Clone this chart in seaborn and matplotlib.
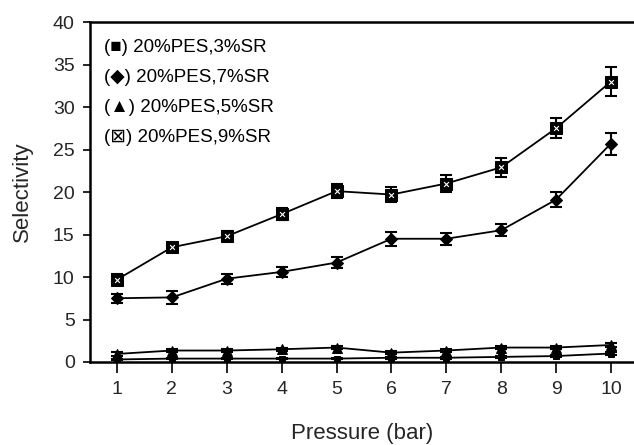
import numpy as np
import pandas as pd
import matplotlib
matplotlib.use("Agg")
import matplotlib.pyplot as plt
import seaborn as sns

pressure = [1, 2, 3, 4, 5, 6, 7, 8, 9, 10]
sr3 = [0.3, 0.4, 0.4, 0.4, 0.4, 0.5, 0.5, 0.6, 0.7, 1.0]
sr3_err = [0.1, 0.1, 0.1, 0.1, 0.1, 0.1, 0.1, 0.1, 0.1, 0.15]
sr7 = [7.5, 7.6, 9.8, 10.6, 11.7, 14.5, 14.5, 15.5, 19.1, 25.7]
sr7_err = [0.5, 0.8, 0.6, 0.6, 0.6, 0.8, 0.7, 0.7, 0.9, 1.3]
sr5 = [0.95, 1.35, 1.35, 1.5, 1.7, 1.1, 1.35, 1.7, 1.7, 2.0]
sr5_err = [0.2, 0.15, 0.15, 0.15, 0.15, 0.2, 0.15, 0.15, 0.15, 0.2]
sr9 = [9.7, 13.5, 14.8, 17.4, 20.1, 19.7, 21.0, 22.9, 27.5, 33.0]
sr9_err = [0.6, 0.5, 0.6, 0.7, 0.8, 0.9, 1.0, 1.1, 1.2, 1.7]
legend_labels = ["20%PES,3%SR", "20%PES,7%SR", "20%PES,5%SR", "20%PES,9%SR"]
legend_glyphs = ["\u25a0", "\u25c6", "\u25b2", "\u22a0"]
yticks = [0, 5, 10, 15, 20, 25, 30, 35, 40]

sns.set_theme(style="ticks")
plt.rcParams["font.family"] = ["Liberation Sans", "DejaVu Sans"]

fig = plt.figure(figsize=(6.34, 4.45), dpi=100)
ax = fig.add_axes([90 / 634, 83 / 445, 1 - 90 / 634, (362 - 22) / 445])

series = [
    (sr3, sr3_err, "s", 4.5),
    (sr7, sr7_err, "D", 6.5),
    (sr5, sr5_err, "^", 7),
    (sr9, sr9_err, "s", 8.5),
]
for vals, errs, mk, ms in series:
    df = pd.DataFrame({"p": pressure, "v": vals})
    ax.errorbar(pressure, vals, yerr=errs, fmt="none", ecolor="black",
                elinewidth=1.5, capsize=4.5, capthick=1.5, zorder=2)
    sns.lineplot(data=df, x="p", y="v", ax=ax, color="black", linewidth=1.3,
                 marker=mk, markersize=ms, markeredgecolor="black",
                 markerfacecolor="black", zorder=3)
# white cross inside boxed markers of 9%SR
sns.scatterplot(x=pressure, y=sr9, ax=ax, marker="x", s=12, color="white",
                linewidth=0.8, zorder=5)

ax.set_xlim(0.507, 10.42)
ax.set_ylim(0, 40)
ax.set_xticks(pressure)
ax.set_yticks(yticks)
ax.tick_params(axis="x", length=8, width=1.2, pad=6, labelsize=14, color="black")
ax.tick_params(axis="y", length=5, width=1.2, pad=6, labelsize=14, color="black")
for s in ["left", "bottom", "top"]:
    ax.spines[s].set_linewidth(1.8)
    ax.spines[s].set_color("black")
ax.spines["right"].set_visible(False)
ax.set_xlabel("Pressure (bar)", fontsize=16, va="baseline")
ax.xaxis.set_label_coords(0.5, (362 - 439) / 340)
ax.set_ylabel("Selectivity", fontsize=16, va="center")
ax.yaxis.set_label_coords((22 - 90) / 544, 0.5)

for i, (g, lab) in enumerate(zip(legend_glyphs, legend_labels)):
    ax.text(0.025, 1 - (47 - 22 + 30 * i) / 340, f"({g}) {lab}",
            transform=ax.transAxes, fontsize=13.5, va="center", ha="left",
            color="black")

fig.savefig("out.png", dpi=100)
